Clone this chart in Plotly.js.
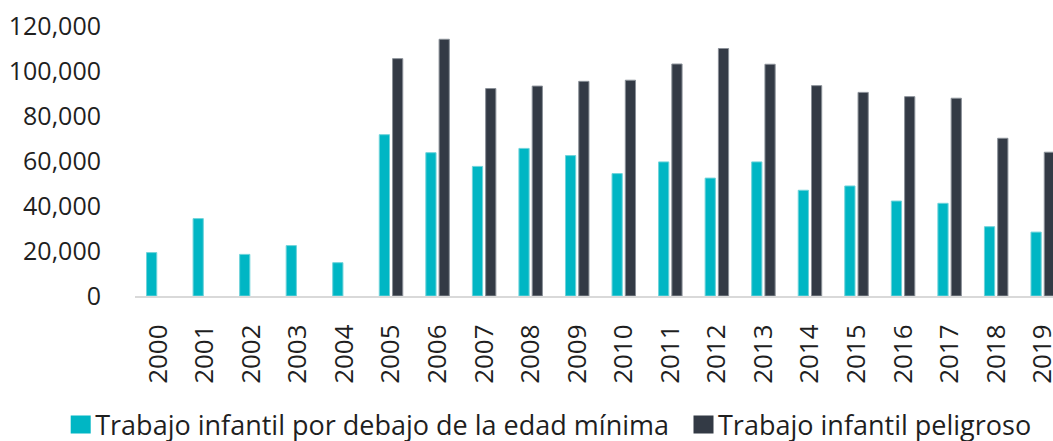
<!DOCTYPE html>
<html>
<head>
<meta charset="utf-8">
<script src="https://cdn.plot.ly/plotly-3.0.1.min.js"></script>
<style>
html,body{margin:0;padding:0;width:1053px;height:441px;overflow:hidden;background:#fff;}
#chart{width:1066px;height:441px;}
</style>
</head>
<body>
<div id="chart"></div>
<script>
const years = ["2000","2001","2002","2003","2004","2005","2006","2007","2008","2009","2010","2011","2012","2013","2014","2015","2016","2017","2018","2019"];
const belowMinAge = [19300,34400,18500,22400,14800,71700,63700,57600,65600,62400,54400,59600,52400,59600,47000,48900,42200,41200,30800,28400];
const hazardous = [null,null,null,null,null,105500,114100,92200,93300,95400,95900,103100,110000,103000,93500,90500,88600,87900,70100,63900];
const seriesNames = ["Trabajo infantil por debajo de la edad mínima","Trabajo infantil peligroso"];
const yTicks = [0,20000,40000,60000,80000,100000,120000];
const yTickText = ["0","20,000","40,000","60,000","80,000","100,000","120,000"];

const fam = "Open Sans, sans-serif";
const col = "#1f1f1f";

const data = [
  {type:"bar", name:seriesNames[0], x:years, y:belowMinAge, legend:"legend",
   marker:{color:"#00B6C4", line:{color:"#6fd3da", width:1}}},
  {type:"bar", name:seriesNames[1], x:years, y:hazardous, legend:"legend2",
   marker:{color:"#333A45", line:{color:"#8a9098", width:1}}}
];

const legendBase = {orientation:"h", xanchor:"left", xref:"container", y:16/441, yanchor:"middle", yref:"container",
  font:{family:fam, size:27, color:col}, itemwidth:30, borderwidth:0, bgcolor:"rgba(0,0,0,0)"};

const layout = {
  width:1066, height:441,
  margin:{l:135, r:0, t:25.7, b:145.3, pad:0, autoexpand:false},
  paper_bgcolor:"#fff", plot_bgcolor:"#fff",
  font:{family:fam, size:25, color:col},
  barmode:"group", bargap:0.43, bargroupgap:0.23,
  showlegend:true,
  legend:Object.assign({}, legendBase, {x:55.2/1066}),
  legend2:Object.assign({}, legendBase, {x:678/1066}),
  xaxis:{type:"category", range:[-0.5,19.5], tickangle:-90, ticks:"outside", ticklen:16, tickcolor:"rgba(0,0,0,0)",
         showline:true, linecolor:"#d9d9d9", linewidth:2, showgrid:false, zeroline:false,
         tickfont:{family:fam, size:26, color:col}, fixedrange:true},
  yaxis:{range:[0,120000], tickvals:yTicks, ticktext:yTickText, showgrid:false, zeroline:false, showline:false,
         ticks:"outside", ticklen:28, tickcolor:"rgba(0,0,0,0)", tickfont:{family:fam, size:25, color:col}, fixedrange:true}
};

Plotly.newPlot("chart", data, layout, {displayModeBar:false, staticPlot:true}).then(function(gd){
  gd.querySelectorAll(".legendpoints path").forEach(function(p){
    p.setAttribute("d","M15.5,9H-4.5V-9H15.5Z");
    p.style.strokeWidth = "0";
  });
});
</script>
</body>
</html>
